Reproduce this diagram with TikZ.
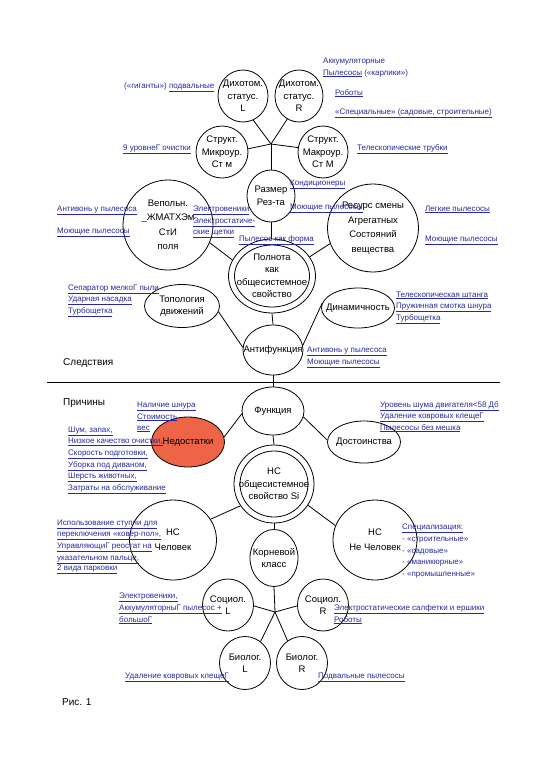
\documentclass[tikz,border=0pt]{standalone}
\usepackage{fontspec}
\setmainfont{Liberation Sans}
\usetikzlibrary{shapes.geometric,calc}
\definecolor{labblue}{RGB}{40,40,160}
\definecolor{nedfill}{RGB}{238,100,70}
\newcommand\myul[1]{\underline{#1}}
\tikzset{
 ell/.style={ellipse, draw, line width=0.8pt, inner sep=0pt},
 txt/.style={align=center, font=\fontsize{9.5}{12.5}\selectfont, inner sep=0pt},
 lab/.style={font=\fontsize{8}{9.6}\selectfont, text=labblue, anchor=base west, inner sep=0pt},
 captxt/.style={font=\fontsize{10}{12}\selectfont, anchor=base west, inner sep=0pt},
 conn/.style={line width=0.8pt},
}
% #1 text options, #2 name, #3 x, #4 y, #5 width, #6 height, #7 text
\newcommand\cnode[7][]{%
 \node[ell,minimum width=#5pt,minimum height=#6pt] (#2) at (#3,#4) {};
 \node[txt,#1] (#2t) at (#2) {#7};}
\begin{document}
\begin{tikzpicture}[x=1pt,y=-1pt]
\useasboundingbox (0,0) rectangle (540,780);
% ---- upper half ----
\cnode{dL}{243}{96}{50}{52}{Дихотом.\\статус.\\L}
\cnode{dR}{299}{96}{48}{52}{Дихотом.\\статус.\\R}
\cnode{smi}{222}{152}{52}{52}{Структ.\\Микроур.\\Ст м}
\cnode{sma}{323}{152}{50}{52}{Структ.\\Макроур.\\Ст М}
\cnode{raz}{271}{196}{48}{52}{Размер\\Рез-та}
\cnode[font=\fontsize{9.5}{14.5}\selectfont]{vep}{168}{225}{90}{90}{Вепольн.\\\_ЖМАТХЭм\\СтИ\\поля}
\cnode[font=\fontsize{9.5}{14.5}\selectfont]{res}{373}{228}{91}{88}{Ресурс смены\\Агрегатных\\Состояний\\вещества}
\node[ell,minimum width=87pt,minimum height=74pt] (polnO) at (272,276) {};
\cnode{poln}{272}{276}{75}{62}{Полнота\\как\\общесистемное\\свойство}
\cnode{topo}{182}{306}{75}{43}{Топология\\движений}
\cnode{dyn}{358}{308}{73}{40}{Динамичность}
\cnode{anti}{273}{350}{60}{50}{Антифункция}
% ---- lower half ----
\cnode{func}{273}{411}{62}{48}{Функция}
\node[ell,fill=nedfill,minimum width=73pt,minimum height=50pt] (ned) at (188,442) {};
\node[txt] (nedt) at (ned) {Недостатки};
\cnode{dost}{364}{442}{73}{42}{Достоинства}
\node[ell,minimum width=80pt,minimum height=78pt] (nssiO) at (274,484) {};
\cnode{nssi}{274}{484}{68}{66}{НС\\общесистемное\\свойство Si}
\cnode[font=\fontsize{9.5}{15}\selectfont]{nsch}{173}{540}{87}{80}{НС\\Человек}
\cnode[font=\fontsize{9.5}{15}\selectfont]{nsnch}{375}{540}{84}{80}{НС\\Не Человек}
\cnode{kor}{274}{558}{48}{57}{Корневой\\класс}
\cnode{socL}{228}{605}{51}{52}{Социол.\\L}
\cnode{socR}{323}{605}{51}{52}{Социол.\\R}
\cnode{bioL}{245}{663}{51}{53}{Биолог.\\L}
\cnode{bioR}{302}{663}{51}{53}{Биолог.\\R}
% ---- connectors ----
\coordinate (j1) at (271,144);
\coordinate (j2) at (275,612);
\coordinate (hl) at (47,382);
\coordinate (hr) at (500,382);
\draw[conn] (j1) -- (dL.293);
\draw[conn] (j1) -- (dR.243);
\draw[conn] (j1) -- (smi.7);
\draw[conn] (j1) -- (sma.170);
\draw[conn] (j1) -- (raz.north);
\draw[conn] (raz.south) -- (raz.south |- polnO.north);
\draw[conn] (vep.337) -- (polnO.158);
\draw[conn] (res.200) -- (polnO.27);
\draw[conn] (polnO.south) -- (anti.north);
\draw[conn] (topo.351) -- (anti.175);
\draw[conn] (dyn.172) -- (anti.9);
\draw[conn] (hl) -- (hr);
\draw[conn] (anti.south) -- (func.north);
\draw[conn] (func.185) -- (ned.8);
\draw[conn] (func.349) -- (dost.177);
\draw[conn] (func.south) -- (nssiO.north);
\draw[conn] (nssiO.213) -- (nsch.29);
\draw[conn] (nssiO.328) -- (nsnch.160);
\draw[conn] (nssiO.south) -- (kor.north);
\draw[conn] (kor.south) -- (j2);
\draw[conn] (j2) -- (socL.358);
\draw[conn] (j2) -- (socR.182);
\draw[conn] (j2) -- (bioL.54);
\draw[conn] (j2) -- (bioR.123);
% ---- labels, upper ----
\node[lab] (a1) at (323,63) {Аккумуляторные};
\node[lab] (a2) at (323,75) {\myul{Пылесосы} («карлики»)};
\node[lab] (a3) at (335,95) {\myul{Роботы}};
\node[lab] (a4) at (335,114) {\myul{«Специальные» (садовые, строительные)}};
\node[lab] (a5) at (357,150) {\myul{Телескопические трубки}};
\node[lab] (a6) at (124,88) {(«гиганты») \myul{подвальные}};
\node[lab] (a7) at (123,150) {\myul{9 уровнеГ очистки}};
\node[lab] (a8) at (290,185) {\myul{Кондиционеры}};
\node[lab] (a9) at (290,209) {\myul{Моющие пылесосы}};
\node[lab] (a10) at (239,241) {\myul{Пылесос как форма}};
\node[lab] (a11) at (193,211) {\myul{Электровеники}};
\node[lab] (a12) at (193,223) {\myul{Электростатиче-}};
\node[lab] (a13) at (193,234) {\myul{ские щетки}};
\node[lab] (a14) at (57,211) {\myul{Антивонь у пылесоса}};
\node[lab] (a15) at (57,233) {\myul{Моющие пылесосы}};
\node[lab] (a16) at (425,211) {\myul{Легкие пылесосы}};
\node[lab] (a17) at (425,241) {\myul{Моющие пылесосы}};
\node[lab] (a18) at (68,290) {\myul{Сепаратор мелкоГ пыли}};
\node[lab] (a19) at (68,301) {\myul{Ударная насадка}};
\node[lab] (a20) at (68,313) {\myul{Турбощетка}};
\node[lab] (a21) at (396,297) {\myul{Телескопическая штанга}};
\node[lab] (a22) at (396,308) {\myul{Пружинная смотка шнура}};
\node[lab] (a23) at (396,320) {\myul{Турбощетка}};
\node[lab] (a24) at (307,352) {\myul{Антивонь у пылесоса}};
\node[lab] (a25) at (307,364) {\myul{Моющие пылесосы}};
\node[captxt] (c1) at (63,365) {Следствия};
% ---- labels, lower ----
\node[captxt] (c2) at (63,405) {Причины};
\node[lab] (b1) at (137,407) {\myul{Наличие шнура}};
\node[lab] (b2) at (137,419) {\myul{Стоимость}};
\node[lab] (b3) at (137,430) {\myul{вес}};
\node[lab] (b4) at (68,432) {\myul{Шум, запах,}};
\node[lab] (b5) at (68,443) {\myul{Низкое качество очистки,}};
\node[lab] (b6) at (68,455) {\myul{Скорость подготовки,}};
\node[lab] (b7) at (68,467) {\myul{Уборка под диваном,}};
\node[lab] (b8) at (68,478) {\myul{Шерсть животных,}};
\node[lab] (b9) at (68,490) {\myul{Затраты на обслуживание}};
\node[lab] (b10) at (380,407) {\myul{Уровень шума двигателя<58 Дб}};
\node[lab] (b11) at (380,418) {\myul{Удаление ковровых клещеГ}};
\node[lab] (b12) at (380,430) {\myul{Пылесосы без мешка}};
\node[lab] (b13) at (57,525) {\myul{Использование ступни для}};
\node[lab] (b14) at (57,536) {\myul{переключения «ковер-пол»,}};
\node[lab] (b15) at (57,548) {\myul{УправляющиГ реостат на}};
\node[lab] (b16) at (57,560) {\myul{указательном пальце,}};
\node[lab] (b17) at (57,570) {\myul{2 вида парковки}};
\node[lab] (b18) at (402,529) {\myul{Специализация:}};
\node[lab] (b19) at (402,541) {- «строительные»};
\node[lab] (b20) at (402,553) {- «садовые»};
\node[lab] (b21) at (402,564) {- «маникюрные»};
\node[lab] (b22) at (402,576) {- «промышленные»};
\node[lab] (b23) at (119,598) {\myul{Электровеники,}};
\node[lab] (b24) at (119,610) {\myul{АккумуляторныГ пылесос +}};
\node[lab] (b25) at (119,622) {\myul{большоГ}};
\node[lab] (b26) at (334,610) {\myul{Электростатические салфетки и ершики}};
\node[lab] (b27) at (334,622) {\myul{Роботы}};
\node[lab] (b28) at (125,678) {\myul{Удаление ковровых клещеГ}};
\node[lab] (b29) at (318,678) {\myul{Подвальные пылесосы}};
\node[captxt] (c3) at (62,705) {Рис. 1};
\end{tikzpicture}
\end{document}
